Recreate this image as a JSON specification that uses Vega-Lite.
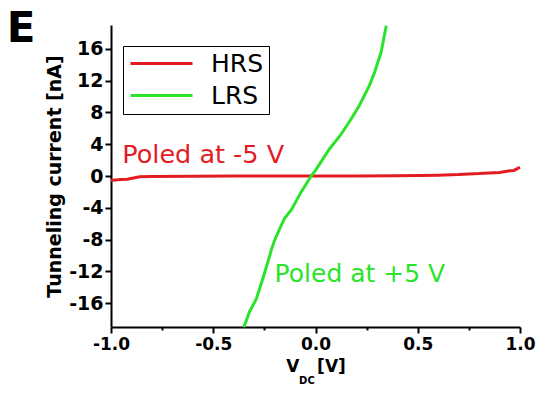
{
  "$schema": "https://vega.github.io/schema/vega-lite/v6.json",
  "width": 409,
  "height": 302,
  "autosize": {"type": "none"},
  "padding": {"left": 111, "top": 25, "right": 17, "bottom": 66},
  "background": "white",
  "config": {"view": {"stroke": null}, "font": "DejaVu Sans",
    "locale": {"number": {"decimal": ".", "thousands": ",", "grouping": [3], "currency": ["$", ""], "minus": "-"}},
    "axisY": {"values": [-16, -12, -8, -4, 0, 4, 8, 12, 16], "format": "d", "grid": false,
      "labelOverlap": false, "labelFlush": false, "labelBound": false,
      "labelFont": "DejaVu Sans", "labelFontWeight": "bold", "labelFontSize": 19, "labelColor": "black", "labelPadding": 2,
      "tickColor": "black", "tickWidth": 2, "tickSize": 6, "domainColor": "black", "domainWidth": 2,
      "titleFont": "DejaVu Sans", "titleFontSize": 19, "titleFontWeight": "bold", "titleColor": "black", "titlePadding": 4}},
  "resolve": {"axis": {"x": "independent"}},
  "layer": [
    {
      "data": {"values": [
        {"V": -1.0, "I": -0.55, "state": "HRS"},
        {"V": -0.98, "I": -0.5, "state": "HRS"},
        {"V": -0.95, "I": -0.45, "state": "HRS"},
        {"V": -0.92, "I": -0.4, "state": "HRS"},
        {"V": -0.89, "I": -0.25, "state": "HRS"},
        {"V": -0.86, "I": -0.1, "state": "HRS"},
        {"V": -0.8, "I": -0.05, "state": "HRS"},
        {"V": -0.6, "I": -0.02, "state": "HRS"},
        {"V": -0.4, "I": 0.0, "state": "HRS"},
        {"V": -0.2, "I": 0.0, "state": "HRS"},
        {"V": 0.0, "I": 0.0, "state": "HRS"},
        {"V": 0.2, "I": 0.0, "state": "HRS"},
        {"V": 0.4, "I": 0.02, "state": "HRS"},
        {"V": 0.5, "I": 0.05, "state": "HRS"},
        {"V": 0.6, "I": 0.1, "state": "HRS"},
        {"V": 0.7, "I": 0.18, "state": "HRS"},
        {"V": 0.75, "I": 0.25, "state": "HRS"},
        {"V": 0.8, "I": 0.3, "state": "HRS"},
        {"V": 0.85, "I": 0.38, "state": "HRS"},
        {"V": 0.9, "I": 0.45, "state": "HRS"},
        {"V": 0.95, "I": 0.65, "state": "HRS"},
        {"V": 0.97, "I": 0.7, "state": "HRS"},
        {"V": 0.985, "I": 0.9, "state": "HRS"},
        {"V": 1.0, "I": 1.1, "state": "HRS"},
        {"V": -0.352, "I": -19.0, "state": "LRS"},
        {"V": -0.347, "I": -18.8, "state": "LRS"},
        {"V": -0.323, "I": -17.1, "state": "LRS"},
        {"V": -0.29, "I": -15.5, "state": "LRS"},
        {"V": -0.258, "I": -12.95, "state": "LRS"},
        {"V": -0.228, "I": -10.4, "state": "LRS"},
        {"V": -0.215, "I": -9.2, "state": "LRS"},
        {"V": -0.197, "I": -7.9, "state": "LRS"},
        {"V": -0.176, "I": -6.7, "state": "LRS"},
        {"V": -0.152, "I": -5.35, "state": "LRS"},
        {"V": -0.117, "I": -4.2, "state": "LRS"},
        {"V": -0.07, "I": -2.0, "state": "LRS"},
        {"V": -0.021, "I": 0.0, "state": "LRS"},
        {"V": 0.0, "I": 0.7, "state": "LRS"},
        {"V": 0.068, "I": 3.4, "state": "LRS"},
        {"V": 0.121, "I": 5.1, "state": "LRS"},
        {"V": 0.175, "I": 7.2, "state": "LRS"},
        {"V": 0.215, "I": 8.9, "state": "LRS"},
        {"V": 0.264, "I": 11.4, "state": "LRS"},
        {"V": 0.289, "I": 13.05, "state": "LRS"},
        {"V": 0.321, "I": 15.6, "state": "LRS"},
        {"V": 0.346, "I": 18.9, "state": "LRS"}
      ]},
      "mark": {"type": "line", "strokeWidth": 3},
      "encoding": {
        "x": {"field": "V", "type": "quantitative", "scale": {"domain": [-1, 1], "nice": false, "zero": false},
          "axis": {"orient": "bottom", "values": [-1, -0.5, 0, 0.5, 1], "format": ".1f", "grid": false,
            "labelOverlap": false, "labelFlush": false, "labelBound": false,
            "labelFont": "DejaVu Sans", "labelFontWeight": "bold", "labelFontSize": 17, "labelColor": "black", "labelPadding": 3,
            "tickColor": "black", "tickWidth": 2, "tickSize": 6, "domainColor": "black", "domainWidth": 2,
            "title": "V\u00a0\u00a0\u00a0[V]", "titleFont": "DejaVu Sans", "titleFontSize": 17, "titleFontWeight": "bold", "titleColor": "black", "titlePadding": 6}},
        "y": {"field": "I", "type": "quantitative", "scale": {"domain": [-19, 19], "nice": false, "zero": false},
          "axis": {"title": "Tunneling current [nA]", "values": [-16, -12, -8, -4, 0, 4, 8, 12, 16], "labelOverlap": false}},
        "color": {"field": "state", "type": "nominal",
          "scale": {"domain": ["HRS", "LRS"], "range": ["#e31b23", "#2be32b"]},
          "legend": {"orient": "none", "legendX": 12, "legendY": 21, "title": null, "strokeColor": "black",
            "fillColor": "white", "padding": 5, "symbolType": "M-3,0H3", "symbolSize": 427, "symbolStrokeWidth": 3,
            "symbolOffset": 21, "labelFont": "DejaVu Sans", "labelFontSize": 25, "labelColor": "black", "labelOffset": 37, "rowPadding": 6}}
      }
    },
    {
      "data": {"values": [{"V": -0.945, "I": 1.66, "label": "Poled at -5 V"}]},
      "mark": {"type": "text", "align": "left", "baseline": "alphabetic", "fontSize": 25.5, "font": "DejaVu Sans", "color": "#e31b23"},
      "encoding": {
        "x": {"field": "V", "type": "quantitative", "scale": {"domain": [-1, 1], "nice": false, "zero": false}, "axis": null},
        "y": {"field": "I", "type": "quantitative", "scale": {"domain": [-19, 19], "nice": false, "zero": false},
          "axis": {"title": "Tunneling current [nA]", "values": [-16, -12, -8, -4, 0, 4, 8, 12, 16], "labelOverlap": false}},
        "text": {"field": "label"}
      }
    },
    {
      "data": {"values": [{"V": -0.2, "I": -13.3, "label": "Poled at +5 V"}]},
      "mark": {"type": "text", "align": "left", "baseline": "alphabetic", "fontSize": 25, "font": "DejaVu Sans", "color": "#2be32b"},
      "encoding": {
        "x": {"field": "V", "type": "quantitative", "scale": {"domain": [-1, 1], "nice": false, "zero": false}, "axis": null},
        "y": {"field": "I", "type": "quantitative", "scale": {"domain": [-19, 19], "nice": false, "zero": false},
          "axis": {"title": "Tunneling current [nA]", "values": [-16, -12, -8, -4, 0, 4, 8, 12, 16], "labelOverlap": false}},
        "text": {"field": "label"}
      }
    },
    {
      "data": {"values": [{"V": -1.51, "I": 16.9, "label": "E"}]},
      "mark": {"type": "text", "align": "left", "baseline": "alphabetic", "fontSize": 42, "font": "DejaVu Sans", "fontWeight": "bold", "color": "black"},
      "encoding": {
        "x": {"field": "V", "type": "quantitative", "scale": {"domain": [-1, 1], "nice": false, "zero": false}, "axis": null},
        "y": {"field": "I", "type": "quantitative", "scale": {"domain": [-19, 19], "nice": false, "zero": false},
          "axis": {"title": "Tunneling current [nA]", "values": [-16, -12, -8, -4, 0, 4, 8, 12, 16], "labelOverlap": false}},
        "text": {"field": "label"}
      }
    },
    {
      "data": {"values": [{"V": -0.042, "I": -26.2, "label": "DC"}]},
      "mark": {"type": "text", "align": "center", "baseline": "alphabetic", "fontSize": 10, "font": "DejaVu Sans", "fontWeight": "bold", "color": "black"},
      "encoding": {
        "x": {"field": "V", "type": "quantitative", "scale": {"domain": [-1, 1], "nice": false, "zero": false},
          "axis": {"orient": "bottom", "values": [-0.75, -0.25, 0.25, 0.75], "labels": false, "domain": false, "grid": false,
            "ticks": true, "tickSize": 3, "tickWidth": 2, "tickColor": "black", "title": null}},
        "y": {"field": "I", "type": "quantitative", "scale": {"domain": [-19, 19], "nice": false, "zero": false},
          "axis": {"title": "Tunneling current [nA]", "values": [-16, -12, -8, -4, 0, 4, 8, 12, 16], "labelOverlap": false}},
        "text": {"field": "label"}
      }
    }
  ]
}
